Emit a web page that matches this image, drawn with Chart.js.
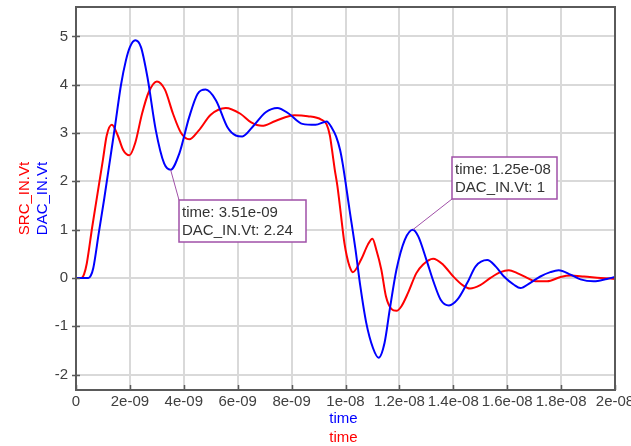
<!DOCTYPE html>
<html>
<head>
<meta charset="utf-8">
<script src="https://cdn.jsdelivr.net/npm/chart.js@4/dist/chart.umd.min.js"></script>
<style>
  html, body { margin: 0; padding: 0; background: #ffffff; }
  #wrap { width: 631px; height: 446px; }
</style>
</head>
<body>
<div id="wrap"><canvas id="c" width="631" height="446"></canvas></div>
<script>
// Transient waveforms: time in nanoseconds, voltage in volts
const srcTimeNs = [0, 0.2, 0.3, 0.4, 0.6, 0.8, 1.0, 1.14, 1.33, 1.55, 1.75, 1.98, 2.2, 2.45, 2.7, 3.0,
  3.3, 3.6, 3.9, 4.2, 4.55, 5.0, 5.56, 6.1, 6.5, 6.9, 7.4, 8.1, 8.6, 9.1, 9.3, 9.42, 9.5, 9.6,
  9.7, 9.8, 9.96, 10.05, 10.15, 10.27, 10.58, 10.83, 11.0, 11.14, 11.33, 11.5, 11.7, 11.89, 12.07,
  12.32, 12.63, 12.88, 13.25, 13.63, 14.0, 14.37, 14.62, 15.0, 15.38, 15.75, 16.06, 16.37, 16.74,
  17.05, 17.48, 17.98, 18.35, 18.85, 19.47, 20.0];
const srcVolts = [0, 0, 0.08, 0.3, 1.05, 1.75, 2.45, 2.95, 3.17, 2.95, 2.65, 2.54, 2.8, 3.4, 3.85, 4.07,
  3.9, 3.4, 3.0, 2.87, 3.05, 3.38, 3.52, 3.4, 3.22, 3.15, 3.25, 3.37, 3.35, 3.28, 3.18, 2.95, 2.65, 2.25,
  1.9, 1.45, 0.72, 0.45, 0.24, 0.12, 0.38, 0.69, 0.81, 0.59, 0.17, -0.38, -0.64, -0.68, -0.59,
  -0.31, 0.10, 0.28, 0.40, 0.27, 0.03, -0.16, -0.22, -0.15, 0.0, 0.12, 0.16, 0.10, 0.0,
  -0.07, -0.07, 0.02, 0.05, 0.03, 0.0, -0.02];

const dacTimeNs = [0, 0.46, 0.55, 0.64, 0.85, 1.05, 1.25, 1.45, 1.67, 1.85, 2.0, 2.2, 2.41, 2.65, 2.96,
  3.27, 3.51, 3.83, 4.2, 4.51, 4.81, 5.19, 5.62, 5.93, 6.17, 6.54, 7.04, 7.47, 7.9, 8.4, 8.89, 9.3,
  9.5, 9.65, 9.8, 9.9, 10.15, 10.37, 10.55, 10.77, 11.02, 11.23, 11.45, 11.64, 11.89, 12.2, 12.5,
  12.7, 13.0, 13.28, 13.53, 13.84, 14.15, 14.52, 14.83, 15.26, 15.57, 15.88, 16.25, 16.49, 16.86,
  17.23, 17.6, 17.91, 18.35, 18.72, 19.21, 19.7, 20.0];
const dacVolts = [0, 0, 0.05, 0.2, 0.95, 1.65, 2.4, 3.15, 4.0, 4.5, 4.78, 4.92, 4.78, 4.16, 3.06,
  2.37, 2.24, 2.57, 3.33, 3.81, 3.9, 3.68, 3.12, 2.95, 2.93, 3.12, 3.43, 3.52, 3.4, 3.19, 3.17, 3.24,
  3.1, 2.93, 2.65, 2.35, 1.41, 0.59, -0.17, -0.93, -1.45, -1.65, -1.34, -0.66, 0.17, 0.79, 1.0,
  0.86, 0.38, -0.1, -0.45, -0.57, -0.45, -0.1, 0.24, 0.37, 0.24, 0.03, -0.14, -0.21, -0.1,
  0.03, 0.12, 0.16, 0.07, -0.03, -0.07, -0.02, 0.02];

// Axis ticks
const xTickValues = [0, 2e-9, 4e-9, 6e-9, 8e-9, 1e-8, 1.2e-8, 1.4e-8, 1.6e-8, 1.8e-8, 2e-8];
const xTickLabels = ['0', '2e-09', '4e-09', '6e-09', '8e-09', '1e-08', '1.2e-08', '1.4e-08', '1.6e-08', '1.8e-08', '2e-08'];
const yTickValues = [-2, -1, 0, 1, 2, 3, 4, 5];
const yTickLabels = ['-2', '-1', '0', '1', '2', '3', '4', '5'];

// Marker readouts on the DAC_IN trace
const markerTimes = [3.51e-9, 1.25e-8];
const markerValues = [2.24, 1];
const markerTimeLabels = ['3.51e-09', '1.25e-08'];
const markerValueLabels = ['2.24', '1'];

// Series names
const seriesNames = ['DAC_IN.Vt', 'SRC_IN.Vt'];

const FONT = '"Liberation Sans", Arial, Helvetica, sans-serif';
const TEXT = '#404040';
const AXIS = '#5a5a5a';
const GRID = '#d9d9d9';
const MARK = '#a050a8';

// Readout box rectangles [left, top, right, bottom] and which corner the leader attaches to
const boxes = [
  { rect: [179, 200, 306, 242], corner: 'tl' },
  { rect: [452, 157, 557, 199], corner: 'bl' }
];

const toPoints = (ts, vs) => ts.map((t, i) => ({ x: t * 1e-9, y: vs[i] }));

// keep the plot rectangle fixed: no extra room for overhanging tick labels
const noOverhang = s => { s.paddingLeft = 0; s.paddingRight = 0; s.paddingTop = 0; s.paddingBottom = 0; };

const framePlugin = {
  id: 'frameAndLabels',
  afterDatasetsDraw(chart) {
    const { ctx, chartArea: a, scales } = chart;
    ctx.save();
    // outer frame
    ctx.strokeStyle = AXIS;
    ctx.lineWidth = 2;
    ctx.strokeRect(a.left, a.top, a.right - a.left, a.bottom - a.top);
    // tick marks
    ctx.lineWidth = 1.5;
    ctx.beginPath();
    yTickValues.forEach(v => {
      const y = Math.round(scales.y.getPixelForValue(v)) + 0.5;
      ctx.moveTo(a.left - 4, y); ctx.lineTo(a.left + 4, y);
    });
    xTickValues.forEach(v => {
      const x = Math.round(scales.x.getPixelForValue(v)) + 0.5;
      ctx.moveTo(x, a.bottom); ctx.lineTo(x, a.bottom - 5);
    });
    ctx.stroke();

    // readout boxes with leader lines
    ctx.font = '15px ' + FONT;
    boxes.forEach((b, i) => {
      const px = scales.x.getPixelForValue(markerTimes[i]);
      const py = scales.y.getPixelForValue(markerValues[i]);
      const [l, t, r, bt] = b.rect;
      const cx = l, cy = b.corner === 'tl' ? t : bt;
      ctx.strokeStyle = MARK;
      ctx.lineWidth = 1;
      ctx.beginPath();
      ctx.moveTo(px, py); ctx.lineTo(cx, cy);
      ctx.stroke();
      ctx.fillStyle = '#ffffff';
      ctx.fillRect(l, t, r - l, bt - t);
      ctx.lineWidth = 1.5;
      ctx.strokeRect(l, t, r - l, bt - t);
      ctx.fillStyle = '#333333';
      ctx.textAlign = 'left';
      ctx.textBaseline = 'alphabetic';
      ctx.fillText('time: ' + markerTimeLabels[i], l + 3, t + 17);
      ctx.fillText(seriesNames[0] + ': ' + markerValueLabels[i], l + 3, t + 35);
    });

    // axis titles
    ctx.font = '15px ' + FONT;
    ctx.textAlign = 'center';
    ctx.textBaseline = 'middle';
    const mid = (a.left + a.right) / 2;
    ctx.fillStyle = '#0000ff';
    ctx.fillText('time', mid - 2, 419);
    ctx.fillStyle = '#ff0000';
    ctx.fillText('time', mid - 2, 438);

    const ymid = (a.top + a.bottom) / 2;
    ctx.textBaseline = 'alphabetic';
    ctx.save();
    ctx.translate(29, ymid);
    ctx.rotate(-Math.PI / 2);
    ctx.fillStyle = '#ff0000';
    ctx.fillText(seriesNames[1], 0, 0);
    ctx.restore();
    ctx.save();
    ctx.translate(47, ymid);
    ctx.rotate(-Math.PI / 2);
    ctx.fillStyle = '#0000ff';
    ctx.fillText(seriesNames[0], 0, 0);
    ctx.restore();

    ctx.restore();
  }
};

new Chart(document.getElementById('c'), {
  type: 'line',
  data: {
    datasets: [
      {
        label: seriesNames[0],
        data: toPoints(dacTimeNs, dacVolts),
        borderColor: '#0000ff',
        borderWidth: 2,
        pointRadius: 0,
        cubicInterpolationMode: 'monotone',
        fill: false
      },
      {
        label: seriesNames[1],
        data: toPoints(srcTimeNs, srcVolts),
        borderColor: '#ff0000',
        borderWidth: 2,
        pointRadius: 0,
        cubicInterpolationMode: 'monotone',
        fill: false
      }
    ]
  },
  options: {
    responsive: false,
    animation: false,
    devicePixelRatio: 1,
    layout: { autoPadding: false, padding: { left: 0, right: 16, top: 7, bottom: 0 } },
    plugins: { legend: { display: false }, tooltip: { enabled: false } },
    scales: {
      x: {
        type: 'linear',
        min: 0,
        max: 2e-8,
        afterBuildTicks: s => { s.ticks = xTickValues.map(v => ({ value: v })); },
        afterFit: s => { s.height = 56; noOverhang(s); },
        ticks: {
          autoSkip: false,
          maxRotation: 0,
          padding: 3,
          color: TEXT,
          font: { family: FONT, size: 15 },
          callback: (v, i) => xTickLabels[i]
        },
        grid: { color: GRID, lineWidth: 2, drawTicks: false },
        border: { display: true, color: AXIS, width: 2 }
      },
      y: {
        type: 'linear',
        min: -2.32,
        max: 5.61,
        afterBuildTicks: s => { s.ticks = yTickValues.map(v => ({ value: v })); },
        afterFit: s => { s.width = 76; noOverhang(s); },
        ticks: {
          padding: 8,
          color: TEXT,
          font: { family: FONT, size: 15 },
          callback: (v, i) => yTickLabels[i]
        },
        grid: { color: GRID, lineWidth: 2, drawTicks: false },
        border: { display: true, color: AXIS, width: 2 }
      }
    }
  },
  plugins: [framePlugin]
});
</script>
</body>
</html>
